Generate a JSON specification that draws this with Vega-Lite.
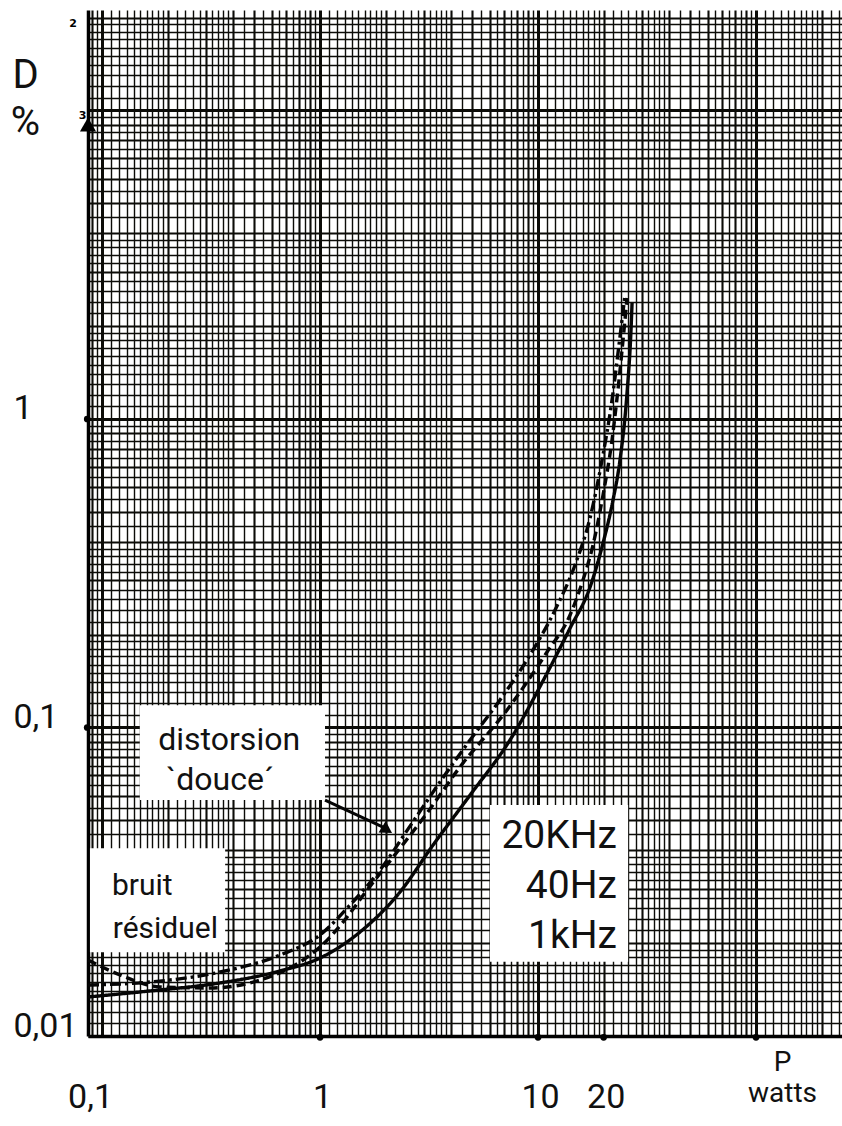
{
  "$schema": "https://vega.github.io/schema/vega-lite/v6.json",
  "width": 754,
  "height": 1026,
  "autosize": {"type": "none"},
  "padding": {"left": 88, "top": 10, "right": 0, "bottom": 90},
  "background": "white",
  "config": {"view": {"stroke": null}, "font": "Roboto"},
  "datasets": {
    "curves": [
      {"f": "1kHz", "p": 0.0862, "d": 0.01338},
      {"f": "1kHz", "p": 0.166, "d": 0.0140},
      {"f": "1kHz", "p": 0.348, "d": 0.01486},
      {"f": "1kHz", "p": 0.655, "d": 0.01625},
      {"f": "1kHz", "p": 1.0, "d": 0.0179},
      {"f": "1kHz", "p": 1.526, "d": 0.02174},
      {"f": "1kHz", "p": 2.328, "d": 0.0293},
      {"f": "1kHz", "p": 3.30, "d": 0.0416},
      {"f": "1kHz", "p": 4.88, "d": 0.0604},
      {"f": "1kHz", "p": 7.44, "d": 0.0911},
      {"f": "1kHz", "p": 11.0, "d": 0.150},
      {"f": "1kHz", "p": 14.03, "d": 0.210},
      {"f": "1kHz", "p": 17.32, "d": 0.285},
      {"f": "1kHz", "p": 19.87, "d": 0.396},
      {"f": "1kHz", "p": 22.08, "d": 0.546},
      {"f": "1kHz", "p": 23.77, "d": 0.736},
      {"f": "1kHz", "p": 25.6, "d": 1.214},
      {"f": "1kHz", "p": 26.7, "d": 1.943},
      {"f": "1kHz", "p": 27.0, "d": 2.377},
      {"f": "40Hz", "p": 0.0862, "d": 0.01763},
      {"f": "40Hz", "p": 0.121, "d": 0.01577},
      {"f": "40Hz", "p": 0.1845, "d": 0.01442},
      {"f": "40Hz", "p": 0.313, "d": 0.01431},
      {"f": "40Hz", "p": 0.531, "d": 0.01519},
      {"f": "40Hz", "p": 0.81, "d": 0.01738},
      {"f": "40Hz", "p": 1.0, "d": 0.01943},
      {"f": "40Hz", "p": 1.275, "d": 0.0234},
      {"f": "40Hz", "p": 1.643, "d": 0.0297},
      {"f": "40Hz", "p": 2.162, "d": 0.0380},
      {"f": "40Hz", "p": 3.097, "d": 0.0528},
      {"f": "40Hz", "p": 4.387, "d": 0.0745},
      {"f": "40Hz", "p": 7.21, "d": 0.114},
      {"f": "40Hz", "p": 11.0, "d": 0.1757},
      {"f": "40Hz", "p": 14.03, "d": 0.2316},
      {"f": "40Hz", "p": 16.08, "d": 0.3007},
      {"f": "40Hz", "p": 17.88, "d": 0.3905},
      {"f": "40Hz", "p": 19.87, "d": 0.567},
      {"f": "40Hz", "p": 21.85, "d": 0.855},
      {"f": "40Hz", "p": 23.52, "d": 1.338},
      {"f": "40Hz", "p": 24.8, "d": 1.943},
      {"f": "40Hz", "p": 25.6, "d": 2.467},
      {"f": "20KHz", "p": 0.0862, "d": 0.01463},
      {"f": "20KHz", "p": 0.166, "d": 0.01496},
      {"f": "20KHz", "p": 0.348, "d": 0.01612},
      {"f": "20KHz", "p": 0.655, "d": 0.0183},
      {"f": "20KHz", "p": 1.0, "d": 0.02126},
      {"f": "20KHz", "p": 1.373, "d": 0.02658},
      {"f": "20KHz", "p": 1.884, "d": 0.0345},
      {"f": "20KHz", "p": 2.587, "d": 0.0479},
      {"f": "20KHz", "p": 3.551, "d": 0.0666},
      {"f": "20KHz", "p": 4.88, "d": 0.0911},
      {"f": "20KHz", "p": 6.69, "d": 0.1228},
      {"f": "20KHz", "p": 9.19, "d": 0.1718},
      {"f": "20KHz", "p": 11.97, "d": 0.2403},
      {"f": "20KHz", "p": 14.78, "d": 0.3363},
      {"f": "20KHz", "p": 17.32, "d": 0.4776},
      {"f": "20KHz", "p": 19.66, "d": 0.736},
      {"f": "20KHz", "p": 21.85, "d": 1.152},
      {"f": "20KHz", "p": 23.52, "d": 1.738},
      {"f": "20KHz", "p": 25.06, "d": 2.523}
    ],
    "boxes": [
      {"name": "bruit", "p1": 0.088, "p2": 0.367, "d1": 0.0187, "d2": 0.0406},
      {"name": "douce", "p1": 0.149, "p2": 1.054, "d1": 0.0582, "d2": 0.118},
      {"name": "legend", "p1": 6.02, "p2": 25.9, "d1": 0.0174, "d2": 0.0561}
    ],
    "notes": [
      {"kind": "left", "p": 0.111, "d": 0.0286, "text": "bruit"},
      {"kind": "left", "p": 0.112, "d": 0.0208, "text": "résiduel"},
      {"kind": "center", "p": 0.383, "d": 0.0845, "text": "distorsion"},
      {"kind": "center", "p": 0.348, "d": 0.0627, "text": "`douce´"},
      {"kind": "right", "p": 23.0, "d": 0.0406, "text": "20KHz"},
      {"kind": "right", "p": 23.0, "d": 0.028, "text": "40Hz"},
      {"kind": "right", "p": 23.0, "d": 0.0193, "text": "1kHz"}
    ],
    "arrow": [
      {"p": 1.054, "d": 0.0582},
      {"p": 1.99, "d": 0.0472}
    ],
    "arrowhead": [{"p": 2.03, "d": 0.0466}],
    "axisdots": [
      {"p": 1, "d": 0.0099},
      {"p": 10, "d": 0.0099},
      {"p": 20, "d": 0.0099},
      {"p": 100, "d": 0.0099},
      {"p": 0.0855, "d": 1},
      {"p": 0.0855, "d": 0.1}
    ],
    "yarrow": [{"p": 0.0862, "d": 9.0}],
    "cycles": [
      {"p": 0.0736, "d": 19.0, "text": "2"},
      {"p": 0.0815, "d": 9.6, "text": "3"}
    ]
  },
  "layer": [
    {
      "data": {"name": "boxes"},
      "mark": {"type": "rect", "fill": "white", "stroke": null},
      "encoding": {
        "x": {"field": "p1", "type": "quantitative",
          "scale": {"type": "log", "domain": [0.0862, 248], "nice": false, "zero": false},
          "axis": {
            "orient": "bottom",
            "values": [0.09,0.095,0.1,0.11,0.12,0.13,0.14,0.15,0.16,0.17,0.18,0.19,0.2,0.22,0.24,0.26,0.28,0.3,0.32,0.34,0.36,0.38,0.4,0.45,0.5,0.55,0.6,0.65,0.7,0.75,0.8,0.85,0.9,0.95,1,1.1,1.2,1.3,1.4,1.5,1.6,1.7,1.8,1.9,2,2.2,2.4,2.6,2.8,3,3.2,3.4,3.6,3.8,4,4.5,5,5.5,6,6.5,7,7.5,8,8.5,9,9.5,10,11,12,13,14,15,16,17,18,19,20,22,24,26,28,30,32,34,36,38,40,45,50,55,60,65,70,75,80,85,90,95,100,110,120,130,140,150,160,170,180,190,200,220,240],
            "grid": true,
            "gridColor": "#0c0c08",
            "gridOpacity": 1,
            "gridWidth": {"condition": [
              {"test": "abs(log(datum.value)/LN10 - round(log(datum.value)/LN10)) < 1e-6", "value": 3},
              {"test": "abs(datum.value / pow(10, floor(log(datum.value)/LN10 + 1e-9)) - round(datum.value / pow(10, floor(log(datum.value)/LN10 + 1e-9)))) < 1e-6", "value": 2.1}
            ], "value": 1.4},
            "ticks": false,
            "tickSize": 0,
            "domain": true,
            "domainColor": "#000",
            "domainWidth": 3.5,
            "labelExpr": "datum.value == 0.1 ? '0,1' : datum.value == 1 ? '1' : datum.value == 10 ? '10' : datum.value == 20 ? '20' : ''",
            "labelOverlap": false,
            "labelBound": false,
            "labelFlush": false,
            "labelFont": "Roboto",
            "labelFontSize": 34,
            "labelFontWeight": "normal",
            "labelColor": "#111",
            "labelPadding": 44,
            "labelBaseline": "top",
            "labelOffset": {"condition": {"test": "datum.value == 0.1", "value": -12}, "value": 2},
            "title": ["P", "watts"],
            "titleFont": "Roboto",
            "titleFontSize": 28,
            "titleFontWeight": "normal",
            "titleColor": "#111",
            "titleLineHeight": 31,
            "titleX": 694,
            "titleY": 12,
            "titleAlign": "center",
            "titleBaseline": "top",
            "titleAngle": 0
          }
        },
        "x2": {"field": "p2"},
        "y": {"field": "d1", "type": "quantitative",
          "scale": {"type": "log", "domain": [0.01, 21.17], "nice": false, "zero": false},
          "axis": {
            "orient": "left",
            "values": [0.01,0.011,0.012,0.013,0.014,0.015,0.016,0.017,0.018,0.019,0.02,0.022,0.024,0.026,0.028,0.03,0.032,0.034,0.036,0.038,0.04,0.045,0.05,0.055,0.06,0.065,0.07,0.075,0.08,0.085,0.09,0.095,0.1,0.11,0.12,0.13,0.14,0.15,0.16,0.17,0.18,0.19,0.2,0.22,0.24,0.26,0.28,0.3,0.32,0.34,0.36,0.38,0.4,0.45,0.5,0.55,0.6,0.65,0.7,0.75,0.8,0.85,0.9,0.95,1,1.1,1.2,1.3,1.4,1.5,1.6,1.7,1.8,1.9,2,2.2,2.4,2.6,2.8,3,3.2,3.4,3.6,3.8,4,4.5,5,5.5,6,6.5,7,7.5,8,8.5,9,9.5,10,11,12,13,14,15,16,17,18,19,20],
            "grid": true,
            "gridColor": "#0c0c08",
            "gridOpacity": 1,
            "gridWidth": {"condition": [
              {"test": "abs(log(datum.value)/LN10 - round(log(datum.value)/LN10)) < 1e-6", "value": 3},
              {"test": "abs(datum.value / pow(10, floor(log(datum.value)/LN10 + 1e-9)) - round(datum.value / pow(10, floor(log(datum.value)/LN10 + 1e-9)))) < 1e-6", "value": 2.1}
            ], "value": 1.4},
            "ticks": false,
            "tickSize": 0,
            "domain": true,
            "domainColor": "#000",
            "domainWidth": 3.5,
            "labelExpr": "datum.value == 0.01 ? '0,01' : datum.value == 0.1 ? '0,1' : datum.value == 1 ? '1' : ''",
            "labelOverlap": false,
            "labelBound": false,
            "labelFlush": false,
            "labelFont": "Roboto",
            "labelFontSize": 34,
            "labelFontWeight": "normal",
            "labelColor": "#111",
            "labelAlign": "left",
            "labelBaseline": "alphabetic",
            "labelPadding": 75,
            "title": ["D", "%"],
            "titleFont": "Roboto",
            "titleFontSize": 40,
            "titleFontWeight": "normal",
            "titleColor": "#111",
            "titleLineHeight": 47,
            "titleAngle": 0,
            "titleX": -63,
            "titleY": 45,
            "titleAlign": "center",
            "titleBaseline": "top"
          }
        },
        "y2": {"field": "d2"}
      }
    },
    {
      "data": {"name": "curves"},
      "mark": {"type": "line", "color": "#050505", "strokeWidth": 3.4, "interpolate": "monotone", "strokeCap": "butt"},
      "encoding": {
        "x": {"field": "p", "type": "quantitative"},
        "y": {"field": "d", "type": "quantitative"},
        "detail": {"field": "f"},
        "strokeDash": {"field": "f", "type": "nominal",
          "scale": {"domain": ["1kHz", "40Hz", "20KHz"], "range": [[1, 0], [9, 5], [11, 4, 3, 4]]},
          "legend": null}
      }
    },
    {
      "data": {"name": "arrow"},
      "mark": {"type": "line", "color": "#050505", "strokeWidth": 3},
      "encoding": {
        "x": {"field": "p", "type": "quantitative"},
        "y": {"field": "d", "type": "quantitative"}
      }
    },
    {
      "data": {"name": "arrowhead"},
      "mark": {"type": "point", "shape": "triangle-up", "filled": true, "color": "#050505", "size": 180, "angle": 122, "opacity": 1},
      "encoding": {
        "x": {"field": "p", "type": "quantitative"},
        "y": {"field": "d", "type": "quantitative"}
      }
    },
    {
      "data": {"name": "yarrow"},
      "mark": {"type": "point", "shape": "triangle-up", "filled": true, "color": "#000", "size": 260, "opacity": 1, "clip": false},
      "encoding": {
        "x": {"field": "p", "type": "quantitative"},
        "y": {"field": "d", "type": "quantitative"}
      }
    },
    {
      "data": {"name": "axisdots"},
      "mark": {"type": "point", "shape": "circle", "filled": true, "color": "#000", "size": 45, "opacity": 1, "clip": false},
      "encoding": {
        "x": {"field": "p", "type": "quantitative"},
        "y": {"field": "d", "type": "quantitative"}
      }
    },
    {
      "data": {"name": "cycles"},
      "mark": {"type": "text", "font": "DejaVu Sans", "fontWeight": "bold", "fontSize": 11, "color": "#000", "align": "center", "baseline": "middle"},
      "encoding": {
        "x": {"field": "p", "type": "quantitative"},
        "y": {"field": "d", "type": "quantitative"},
        "text": {"field": "text"}
      }
    },
    {
      "data": {"name": "notes"},
      "transform": [{"filter": "datum.kind == 'left'"}],
      "mark": {"type": "text", "font": "Roboto", "fontWeight": "normal", "fontSize": 30, "color": "#111", "align": "left", "baseline": "alphabetic"},
      "encoding": {
        "x": {"field": "p", "type": "quantitative"},
        "y": {"field": "d", "type": "quantitative"},
        "text": {"field": "text"}
      }
    },
    {
      "data": {"name": "notes"},
      "transform": [{"filter": "datum.kind == 'center'"}],
      "mark": {"type": "text", "font": "Roboto", "fontWeight": "normal", "fontSize": 32, "color": "#111", "align": "center", "baseline": "alphabetic"},
      "encoding": {
        "x": {"field": "p", "type": "quantitative"},
        "y": {"field": "d", "type": "quantitative"},
        "text": {"field": "text"}
      }
    },
    {
      "data": {"name": "notes"},
      "transform": [{"filter": "datum.kind == 'right'"}],
      "mark": {"type": "text", "font": "Roboto", "fontWeight": "normal", "fontSize": 39, "color": "#111", "align": "right", "baseline": "alphabetic"},
      "encoding": {
        "x": {"field": "p", "type": "quantitative"},
        "y": {"field": "d", "type": "quantitative"},
        "text": {"field": "text"}
      }
    }
  ]
}
